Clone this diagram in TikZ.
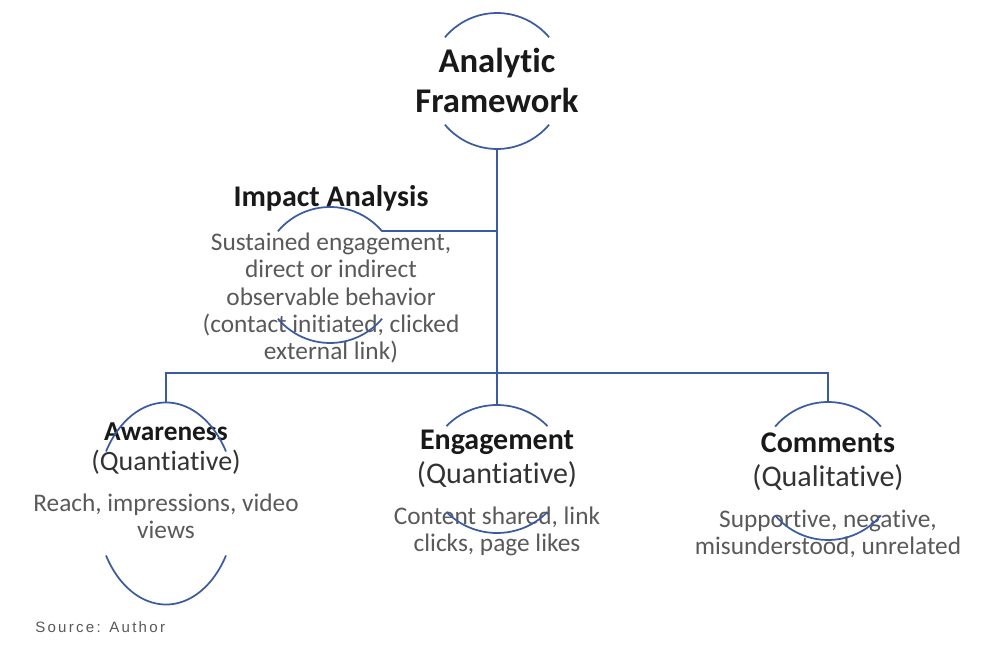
\documentclass[tikz,border=0pt]{standalone}
\usepackage{fontspec}
\usetikzlibrary{calc}
\setmainfont[Ligatures=NoCommon]{Carlito}
\newfontfamily\srcfont[LetterSpace=15]{Liberation Sans}
\definecolor{framecol}{HTML}{3A5BA0}
\definecolor{bodycol}{HTML}{595959}
\definecolor{subcol}{HTML}{333333}
\tikzset{
  frameline/.style={draw=framecol,line width=1.3pt},
  headtxt/.style={inner sep=0pt,align=center,font=\bfseries\fontsize{22.5}{26}\selectfont,text=black!90},
  subtxt/.style={inner sep=0pt,align=center,font=\fontsize{22.5}{26}\selectfont,text=subcol},
  bodytxt/.style={inner sep=0pt,align=center,font=\fontsize{19}{20.3}\selectfont,text=bodycol}
}
\begin{document}
\begin{tikzpicture}[x=0.75pt,y=-0.75pt]
    \useasboundingbox (0,0) rectangle (1000,645);
    % circle centres
    \coordinate (cTop) at (497,81);
    \coordinate (cImp) at (330,275);
    \coordinate (cAwa) at (166,503.5);
    \coordinate (cEng) at (497,469);
    \coordinate (cCom) at (828,471);
    % texts
    \node[headtxt,font=\bfseries\fontsize{26}{30}\selectfont] (top) at (497,80) {Analytic\\Framework};
    \node[headtxt] (imp) at (331,198) {Impact Analysis};
    \node[bodytxt] (imptxt) at (331,298) {Sustained engagement,\\direct or indirect\\observable behavior\\(contact initiated, clicked\\external link)};
    \node[headtxt,font=\bfseries\fontsize{20.5}{24}\selectfont] (awa) at (166,432) {Awareness};
    \node[subtxt,font=\fontsize{21}{24}\selectfont] (awasub) at (166,462) {(Quantiative)};
    \node[bodytxt] (awatxt) at (166,516.5) {Reach, impressions, video\\views};
    \node[headtxt] (eng) at (497,442) {Engagement};
    \node[subtxt] (engsub) at (497,475) {(Quantiative)};
    \node[bodytxt] (engtxt) at (497,531.5) {Content shared, link\\clicks, page likes};
    \node[headtxt] (com) at (828,443) {Comments};
    \node[subtxt] (comsub) at (828,478) {(Qualitative)};
    \node[bodytxt] (comtxt) at (828,533.5) {Supportive, negative,\\misunderstood, unrelated};
    \node[inner sep=0pt,anchor=west,font=\srcfont\fontsize{11.3}{13}\selectfont,text=bodycol] (src) at (35,627) {Source: Author};
    % arcs
    \begin{scope}[frameline]
    \draw (cTop) ++(220:68) arc[start angle=220,end angle=320,radius=68];
    \draw (cTop) ++(140:68) arc[start angle=140,end angle=40,radius=68];
    \draw (cImp) ++(220:68) arc[start angle=220,end angle=320,radius=68] coordinate (impEnd);
    \draw (cImp) ++(140:68) arc[start angle=140,end angle=40,radius=68];
    \draw (cAwa) ++(211:70 and 101) arc[start angle=211,end angle=329,x radius=70,y radius=101];
    \draw (cAwa) ++(149:70 and 101) arc[start angle=149,end angle=31,x radius=70,y radius=101];
    \draw (cEng) ++(222:68 and 64) arc[start angle=222,end angle=318,x radius=68,y radius=64];
    \draw (cEng) ++(138:68 and 64) arc[start angle=138,end angle=42,x radius=68,y radius=64];
    \draw (cCom) ++(220:69) arc[start angle=220,end angle=320,radius=69];
    \draw (cCom) ++(140:69) arc[start angle=140,end angle=40,radius=69];
    \end{scope}
    % connectors
    \coordinate (topBot) at ($(cTop)+(0,68)$);
    \coordinate (awaTop) at ($(cAwa)+(0,-101)$);
    \coordinate (engTop) at ($(cEng)+(0,-64)$);
    \coordinate (comTop) at ($(cCom)+(0,-69)$);
    \coordinate (hub) at (497,373);
    \begin{scope}[frameline]
    \draw (topBot) -- (engTop);
    \draw (impEnd) -- (impEnd -| topBot);
    \draw (awaTop) |- (hub) -| (comTop);
    \end{scope}
\end{tikzpicture}
\end{document}
